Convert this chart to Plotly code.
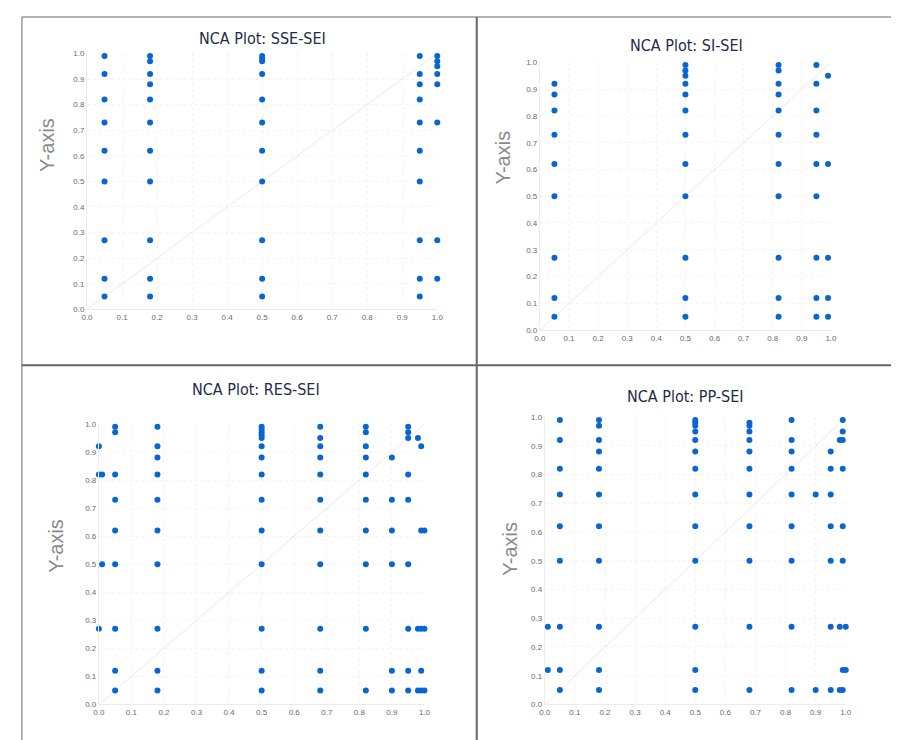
import plotly.graph_objects as go

# ---- data: x level -> list of y values ----
sse_sei_cols = {
    0.05: [0.99, 0.92, 0.82, 0.73, 0.62, 0.50, 0.27, 0.12, 0.05],
    0.18: [0.99, 0.97, 0.92, 0.88, 0.82, 0.73, 0.62, 0.50, 0.27, 0.12, 0.05],
    0.50: [0.99, 0.98, 0.97, 0.92, 0.82, 0.73, 0.62, 0.50, 0.27, 0.12, 0.05],
    0.95: [0.99, 0.92, 0.88, 0.82, 0.73, 0.62, 0.50, 0.27, 0.12, 0.05],
    1.00: [0.99, 0.97, 0.95, 0.92, 0.88, 0.73, 0.27, 0.12],
}
si_sei_cols = {
    0.05: [0.92, 0.88, 0.82, 0.73, 0.62, 0.50, 0.27, 0.12, 0.05],
    0.50: [0.99, 0.97, 0.95, 0.92, 0.88, 0.82, 0.73, 0.62, 0.50, 0.27, 0.12, 0.05],
    0.82: [0.99, 0.97, 0.92, 0.88, 0.82, 0.73, 0.62, 0.50, 0.27, 0.12, 0.05],
    0.95: [0.99, 0.92, 0.82, 0.73, 0.62, 0.50, 0.27, 0.12, 0.05],
    0.99: [0.95, 0.62, 0.27, 0.12, 0.05],
}
res_sei_cols = {
    0.00: [0.92, 0.82, 0.27],
    0.01: [0.82, 0.50],
    0.05: [0.99, 0.97, 0.82, 0.73, 0.62, 0.50, 0.27, 0.12, 0.05],
    0.18: [0.99, 0.92, 0.88, 0.82, 0.73, 0.62, 0.50, 0.27, 0.12, 0.05],
    0.50: [0.99, 0.98, 0.97, 0.96, 0.95, 0.92, 0.88, 0.82, 0.73, 0.62, 0.50, 0.27, 0.12, 0.05],
    0.68: [0.99, 0.95, 0.92, 0.88, 0.82, 0.73, 0.62, 0.50, 0.27, 0.12, 0.05],
    0.82: [0.99, 0.97, 0.92, 0.88, 0.82, 0.73, 0.62, 0.50, 0.27, 0.05],
    0.90: [0.88, 0.73, 0.62, 0.50, 0.12, 0.05],
    0.95: [0.99, 0.97, 0.95, 0.82, 0.73, 0.50, 0.27, 0.12, 0.05],
    0.98: [0.95, 0.27, 0.05],
    0.99: [0.92, 0.62, 0.27, 0.12, 0.05],
    1.00: [0.62, 0.27, 0.05],
}
pp_sei_cols = {
    0.01: [0.27, 0.12],
    0.05: [0.99, 0.92, 0.82, 0.73, 0.62, 0.50, 0.27, 0.12, 0.05],
    0.18: [0.99, 0.97, 0.92, 0.88, 0.82, 0.73, 0.62, 0.50, 0.27, 0.12, 0.05],
    0.50: [0.99, 0.98, 0.97, 0.95, 0.92, 0.88, 0.82, 0.73, 0.62, 0.50, 0.27, 0.12, 0.05],
    0.68: [0.98, 0.97, 0.95, 0.92, 0.88, 0.82, 0.73, 0.62, 0.50, 0.27, 0.05],
    0.82: [0.99, 0.92, 0.88, 0.82, 0.73, 0.62, 0.50, 0.27, 0.05],
    0.90: [0.73, 0.05],
    0.95: [0.88, 0.82, 0.73, 0.62, 0.50, 0.27, 0.05],
    0.98: [0.92, 0.27, 0.05],
    0.99: [0.99, 0.95, 0.92, 0.82, 0.62, 0.50, 0.12, 0.05],
    1.00: [0.27, 0.12],
}
titles = ["NCA Plot: SSE-SEI", "NCA Plot: SI-SEI", "NCA Plot: RES-SEI", "NCA Plot: PP-SEI"]
tick_vals = [0.0, 0.1, 0.2, 0.3, 0.4, 0.5, 0.6, 0.7, 0.8, 0.9, 1.0]
diag_x = [0.0, 1.0]
diag_y = [0.0, 1.0]

W, H = 899, 740
# pixel boxes of each plot area: (left, right, top, bottom)
boxes = [(74, 429, 42, 301), (533, 828, 51, 322), (86, 416, 417, 701), (538, 843, 410, 701)]
title_pos = [(252, 27), (682, 34), (245, 382), (680, 389)]
ylab_pos = [(34, 135), (496, 147), (43, 540), (503, 543)]

panels = [sse_sei_cols, si_sei_cols, res_sei_cols, pp_sei_cols]

fig = go.Figure()
layout = dict(
    width=W, height=H, margin=dict(l=0, r=0, t=0, b=0),
    paper_bgcolor="white", plot_bgcolor="white", showlegend=False,
)
annotations = []
for i, (cols, box) in enumerate(zip(panels, boxes)):
    n = "" if i == 0 else str(i + 1)
    xs, ys = [], []
    for xv, yl in cols.items():
        for yv in yl:
            xs.append(xv)
            ys.append(yv)
    fig.add_trace(go.Scatter(x=diag_x, y=diag_y, mode="lines",
                             line=dict(color="rgba(200,200,200,0.5)", width=0.8),
                             xaxis="x" + n, yaxis="y" + n, hoverinfo="skip"))
    fig.add_trace(go.Scatter(x=xs, y=ys, mode="markers",
                             marker=dict(color="#0a66cf", size=6),
                             cliponaxis=False,
                             xaxis="x" + n, yaxis="y" + n))
    l, r, t, b = box
    common = dict(range=[0, 1], tickvals=tick_vals, tickformat=".1f",
                  showgrid=True, gridcolor="#f3f3f3", griddash="dot", gridwidth=1,
                  zeroline=False, showline=True, linecolor="#ececec", linewidth=1,
                  ticks="", tickfont=dict(family="Liberation Sans, Arial", size=8, color="#6a6a6a"),
                  fixedrange=True)
    layout["xaxis" + n] = dict(common, domain=[l / W, r / W], anchor="y" + n)
    layout["yaxis" + n] = dict(common, domain=[1 - b / H, 1 - t / H], anchor="x" + n)
    tx, ty = title_pos[i]
    annotations.append(dict(text=titles[i], x=tx / W, y=1 - ty / H, xref="paper", yref="paper",
                            showarrow=False, xanchor="center", yanchor="middle",
                            font=dict(family="Liberation Sans Narrow, DejaVu Sans Condensed, Arial",
                                      size=16, color="#1f2b47")))
    lx, ly = ylab_pos[i]
    annotations.append(dict(text="Y-axis", x=lx / W, y=1 - ly / H, xref="paper", yref="paper",
                            showarrow=False, xanchor="center", yanchor="middle", textangle=-90,
                            font=dict(family="Liberation Sans, Arial", size=20, color="#8a8a8a")))

layout["annotations"] = annotations

# table borders
def hline(y, x0, x1, color, w):
    return dict(type="line", xref="paper", yref="paper", x0=x0 / W, x1=x1 / W,
                y0=1 - y / H, y1=1 - y / H, line=dict(color=color, width=w))

def vline(x, y0, y1, color, w):
    return dict(type="line", xref="paper", yref="paper", x0=x / W, x1=x / W,
                y0=1 - y0 / H, y1=1 - y1 / H, line=dict(color=color, width=w))

layout["shapes"] = [
    hline(5, 8, 899, "#9a9a9a", 1.5),
    vline(8, 5, 740, "#9a9a9a", 1.5),
    hline(357.5, 8, 899, "#666666", 2),
    vline(469, 5, 740, "#666666", 2),
]

fig.update_layout(**layout)
fig.write_html("out.html")
